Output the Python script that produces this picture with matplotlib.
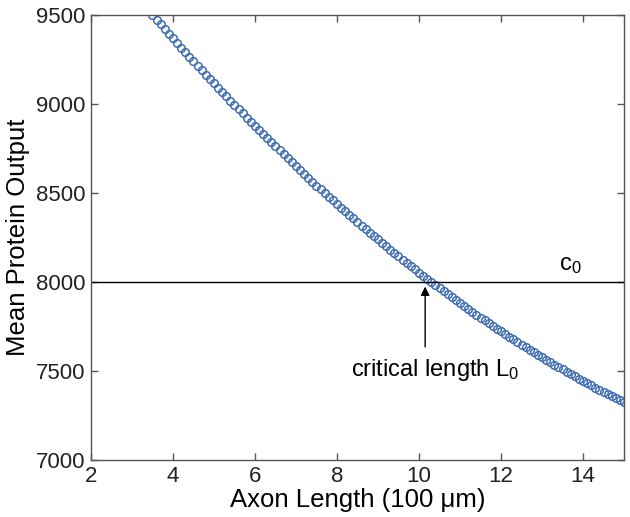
import numpy as np
import matplotlib
matplotlib.use('Agg')
import matplotlib.pyplot as plt

plt.rcParams['font.family'] = ['Liberation Sans', 'DejaVu Sans']
plt.rcParams['mathtext.default'] = 'regular'

# comprimento do axônio (x100 um), passo 0.1
comprimento = np.round(np.arange(35, 151) / 10, 1)

# produção média de proteína
producao = [
    9500, 9473, 9447, 9421, 9395, 9369, 9343, 9317, 9291, 9266,
    9240, 9215, 9190, 9165, 9140, 9116, 9091, 9067, 9043, 9018,
    8994, 8971, 8947, 8923, 8900, 8876, 8853, 8830, 8807, 8784,
    8762, 8739, 8717, 8695, 8672, 8650, 8629, 8607, 8585, 8564,
    8542, 8521, 8500, 8479, 8458, 8438, 8417, 8397, 8377, 8357,
    8337, 8317, 8297, 8277, 8258, 8239, 8220, 8200, 8182, 8163,
    8144, 8126, 8107, 8089, 8071, 8053, 8035, 8017, 8000, 7982,
    7965, 7948, 7931, 7914, 7897, 7881, 7864, 7848, 7832, 7816,
    7800, 7784, 7768, 7753, 7737, 7722, 7707, 7692, 7677, 7662,
    7647, 7633, 7619, 7604, 7590, 7576, 7563, 7549, 7535, 7522,
    7509, 7496, 7483, 7470, 7457, 7444, 7432, 7420, 7407, 7395,
    7383, 7372, 7360, 7348, 7337, 7326,
]

c0 = 8000
L0 = 10.15

x_ticks = [2, 4, 6, 8, 10, 12, 14]
y_ticks = [7000, 7500, 8000, 8500, 9000, 9500]

fig = plt.figure(figsize=(6.3, 5.17), dpi=100)
ax = fig.add_axes([0.1444, 0.1103, 0.8461, 0.8607])

ax.plot(comprimento, producao, 'o', mfc='none', mec='#3f6db0', ms=5.5, mew=1.1)
ax.axhline(c0, color='black', lw=1)

ax.annotate('', xy=(L0, 7990), xytext=(L0, 7620),
            arrowprops=dict(arrowstyle='-|>', color='black', lw=1, mutation_scale=13))
ax.text(10.4, 7505, 'critical length L$_0$', fontsize=17, ha='center', va='center')
ax.text(13.7, 8095, 'c$_0$', fontsize=17, ha='center', va='center')

ax.set_xlim(2, 15)
ax.set_ylim(7000, 9500)
ax.set_xticks(x_ticks)
ax.set_yticks(y_ticks)

ax.set_xlabel('Axon Length (100 μm)', fontsize=18.5, labelpad=1)
ax.set_ylabel('Mean Protein Output', fontsize=18.5, labelpad=4)

for s in ax.spines.values():
    s.set_color('#555555')
    s.set_linewidth(1)
ax.tick_params(direction='in', top=True, right=True, length=5, width=1,
               color='#555555', labelsize=16, labelcolor='#222222')
ax.tick_params(axis='x', pad=4)
ax.tick_params(axis='y', pad=4)

fig.savefig('out.png', dpi=100)
